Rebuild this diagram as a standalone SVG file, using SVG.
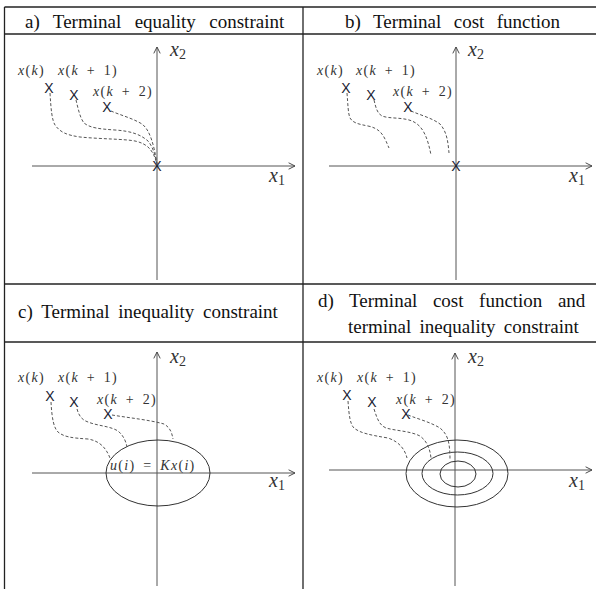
<svg xmlns="http://www.w3.org/2000/svg" width="596" height="589" viewBox="0 0 596 589">
<defs>
<marker id="arr" viewBox="0 0 10 10" refX="9" refY="5" markerWidth="8" markerHeight="8" orient="auto" markerUnits="userSpaceOnUse">
<polyline points="1,1 9,5 1,9" fill="none" stroke="#444" stroke-width="1.2"/>
</marker>
</defs>
<style>
.grid{stroke:#222;stroke-width:1.3;fill:none}
.axis{stroke:#555;stroke-width:1;fill:none}
.dash{stroke:#555;stroke-width:1;fill:none;stroke-dasharray:3,2}
.ell{stroke:#333;stroke-width:1;fill:none}
.hdr{font-size:19px;fill:#111}
.lab{font-size:14px;fill:#333;letter-spacing:1.3px;word-spacing:3px}
.ax{font-size:20px;fill:#333}
.sub{font-size:14px;font-style:normal}
.mk{font-size:14px;fill:#1a2233;text-anchor:middle}
</style>
<g id="table">
<line class="grid" x1="4.5" y1="7" x2="596" y2="7"/>
<line class="grid" x1="4.5" y1="34" x2="596" y2="34"/>
<line class="grid" x1="4.5" y1="284" x2="596" y2="284"/>
<line class="grid" x1="4.5" y1="342" x2="596" y2="342"/>
<line class="grid" x1="4.5" y1="7" x2="4.5" y2="589"/>
<line class="grid" x1="303" y1="7" x2="303" y2="589"/>
</g>
<g id="headers" font-family="Liberation Serif, DejaVu Serif, serif">
<text class="hdr" x="25" y="28" word-spacing="8.7">a) Terminal equality constraint</text>
<text class="hdr" x="345" y="28" word-spacing="7.7">b) Terminal cost function</text>
<text class="hdr" x="18" y="318" word-spacing="4">c) Terminal inequality constraint</text>
<text class="hdr" x="318" y="307" word-spacing="10.8">d) Terminal cost function and</text>
<text class="hdr" x="348" y="333" word-spacing="3.5">terminal inequality constraint</text>
</g>

<g id="panel-a" font-family="Liberation Serif, DejaVu Serif, serif">
<line class="axis" x1="157" y1="280" x2="157" y2="47" marker-end="url(#arr)"/>
<line class="axis" x1="32" y1="166" x2="295" y2="166" marker-end="url(#arr)"/>
<text class="ax" x="170" y="56"><tspan font-style="italic">x</tspan><tspan class="sub" dy="3">2</tspan></text>
<text class="ax" x="269" y="182"><tspan font-style="italic">x</tspan><tspan class="sub" dy="3">1</tspan></text>
<text class="lab" x="18" y="75"><tspan font-style="italic">x</tspan>(<tspan font-style="italic">k</tspan>)</text>
<text class="lab" x="58" y="75"><tspan font-style="italic">x</tspan>(<tspan font-style="italic">k</tspan> + 1)</text>
<text class="lab" x="93" y="96"><tspan font-style="italic">x</tspan>(<tspan font-style="italic">k</tspan> + 2)</text>
<text class="mk" x="49" y="93" font-family="Liberation Sans, DejaVu Sans, sans-serif">X</text>
<text class="mk" x="74" y="100" font-family="Liberation Sans, DejaVu Sans, sans-serif">X</text>
<text class="mk" x="107" y="112" font-family="Liberation Sans, DejaVu Sans, sans-serif">X</text>
<text class="mk" x="157" y="171" font-family="Liberation Sans, DejaVu Sans, sans-serif">X</text>
</g>

<g id="panel-b" font-family="Liberation Serif, DejaVu Serif, serif">
<line class="axis" x1="456" y1="280" x2="456" y2="47" marker-end="url(#arr)"/>
<line class="axis" x1="329" y1="166" x2="592" y2="166" marker-end="url(#arr)"/>
<text class="ax" x="468" y="56"><tspan font-style="italic">x</tspan><tspan class="sub" dy="3">2</tspan></text>
<text class="ax" x="569" y="182"><tspan font-style="italic">x</tspan><tspan class="sub" dy="3">1</tspan></text>
<text class="lab" x="317" y="75"><tspan font-style="italic">x</tspan>(<tspan font-style="italic">k</tspan>)</text>
<text class="lab" x="356" y="75"><tspan font-style="italic">x</tspan>(<tspan font-style="italic">k</tspan> + 1)</text>
<text class="lab" x="393" y="96"><tspan font-style="italic">x</tspan>(<tspan font-style="italic">k</tspan> + 2)</text>
<text class="mk" x="346" y="93" font-family="Liberation Sans, DejaVu Sans, sans-serif">X</text>
<text class="mk" x="371" y="100" font-family="Liberation Sans, DejaVu Sans, sans-serif">X</text>
<text class="mk" x="408" y="112" font-family="Liberation Sans, DejaVu Sans, sans-serif">X</text>
<text class="mk" x="456" y="171" font-family="Liberation Sans, DejaVu Sans, sans-serif">X</text>
</g>

<g id="panel-c" font-family="Liberation Serif, DejaVu Serif, serif">
<line class="axis" x1="157" y1="586" x2="157" y2="352" marker-end="url(#arr)"/>
<line class="axis" x1="32" y1="473" x2="295" y2="473" marker-end="url(#arr)"/>
<text class="ax" x="170" y="363"><tspan font-style="italic">x</tspan><tspan class="sub" dy="3">2</tspan></text>
<text class="ax" x="269" y="487"><tspan font-style="italic">x</tspan><tspan class="sub" dy="3">1</tspan></text>
<text class="lab" x="18" y="382"><tspan font-style="italic">x</tspan>(<tspan font-style="italic">k</tspan>)</text>
<text class="lab" x="58" y="382"><tspan font-style="italic">x</tspan>(<tspan font-style="italic">k</tspan> + 1)</text>
<text class="lab" x="97" y="404"><tspan font-style="italic">x</tspan>(<tspan font-style="italic">k</tspan> + 2)</text>
<text class="mk" x="50" y="401" font-family="Liberation Sans, DejaVu Sans, sans-serif">X</text>
<text class="mk" x="74" y="407" font-family="Liberation Sans, DejaVu Sans, sans-serif">X</text>
<text class="mk" x="108" y="419" font-family="Liberation Sans, DejaVu Sans, sans-serif">X</text>
<ellipse class="ell" cx="158" cy="473" rx="52" ry="33"/>
<text class="lab" x="110" y="470" letter-spacing="1.6" word-spacing="3"><tspan font-style="italic">u</tspan>(<tspan font-style="italic">i</tspan>) = <tspan font-style="italic">Kx</tspan>(<tspan font-style="italic">i</tspan>)</text>
</g>

<g id="panel-d" font-family="Liberation Serif, DejaVu Serif, serif">
<line class="axis" x1="455" y1="586" x2="455" y2="353" marker-end="url(#arr)"/>
<line class="axis" x1="329" y1="470" x2="592" y2="470" marker-end="url(#arr)"/>
<text class="ax" x="468" y="363"><tspan font-style="italic">x</tspan><tspan class="sub" dy="3">2</tspan></text>
<text class="ax" x="569" y="487"><tspan font-style="italic">x</tspan><tspan class="sub" dy="3">1</tspan></text>
<text class="lab" x="317" y="382"><tspan font-style="italic">x</tspan>(<tspan font-style="italic">k</tspan>)</text>
<text class="lab" x="357" y="382"><tspan font-style="italic">x</tspan>(<tspan font-style="italic">k</tspan> + 1)</text>
<text class="lab" x="396" y="404"><tspan font-style="italic">x</tspan>(<tspan font-style="italic">k</tspan> + 2)</text>
<text class="mk" x="347" y="400" font-family="Liberation Sans, DejaVu Sans, sans-serif">X</text>
<text class="mk" x="372" y="407" font-family="Liberation Sans, DejaVu Sans, sans-serif">X</text>
<text class="mk" x="406" y="419" font-family="Liberation Sans, DejaVu Sans, sans-serif">X</text>
<ellipse class="ell" cx="457" cy="473.5" rx="51" ry="33.5"/>
<ellipse class="ell" cx="457.5" cy="473.5" rx="35.5" ry="21.5"/>
<ellipse class="ell" cx="458" cy="474" rx="18" ry="13"/>
</g>

<g id="connectors">
<path class="dash" d="M50,93 C51,110 52,120 55,125 C60,132 66,135 80,137 C100,139 125,139 135,141 C148,144 153,150 157,164"/>
<path class="dash" d="M76,100 C78,108 80,118 84,123 C90,128 100,129 115,130 C130,131 140,134 148,141 C153,147 155,155 157,164"/>
<path class="dash" d="M111,111 C120,115 132,118 142,124 C150,130 154,145 157,164"/>

<path class="dash" d="M347,93 C348,105 348,113 350,118 C353,123 358,124 368,126 C378,128 382,133 385,139 C387,143 388,146 389,148"/>
<path class="dash" d="M374,100 C376,108 377,113 382,116 C390,119 402,117 412,121 C424,126 428,140 431,155"/>
<path class="dash" d="M411,111 C420,115 432,118 440,124 C447,132 448,142 449,153"/>

<path class="dash" d="M51,402 C52,420 54,428 58,432 C64,437 72,438 88,439 C100,441 106,448 110,458"/>
<path class="dash" d="M77,409 C79,416 82,420 88,422 C98,426 110,426 118,431 C124,436 126,442 127,447"/>
<path class="dash" d="M112,415 C130,418 150,420 164,424 C171,428 172,434 173,439"/>

<path class="dash" d="M348,401 C349,415 350,424 354,428 C360,433 370,435 388,438 C400,442 405,450 407,458"/>
<path class="dash" d="M374,409 C377,418 379,425 386,428 C397,431 410,431 420,436 C428,442 430,450 431,458"/>
<path class="dash" d="M408,415 C418,419 430,422 440,428 C447,434 450,440 450,460"/>
</g>
</svg>
